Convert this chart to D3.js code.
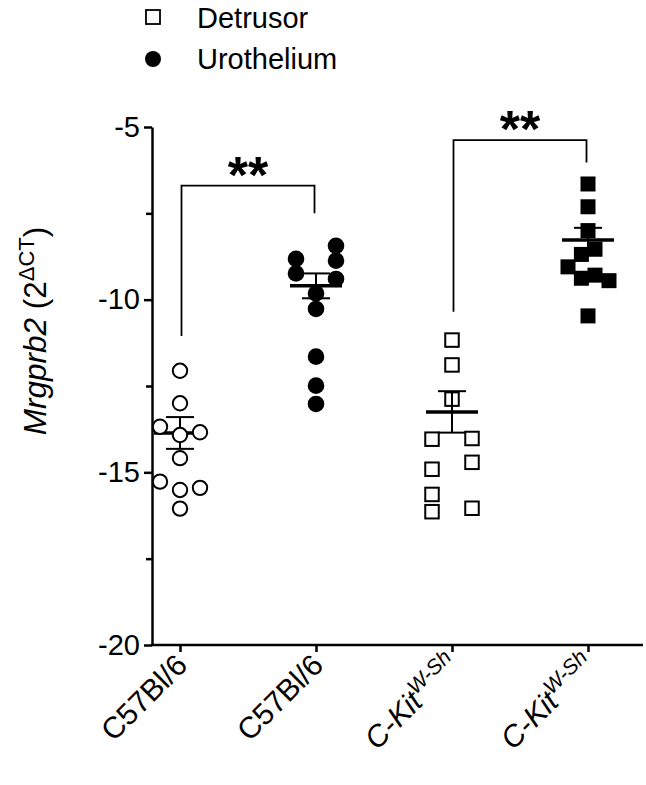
<!DOCTYPE html>
<html lang="en">

<head>
    <meta charset="utf-8">
    <title>Mrgprb2 expression</title>
    <script type="text/javascript" src="https://d3js.org/d3.v7.min.js"></script>
    <style>
        body { margin: 0; background: #fff; }
        svg text { font-family: "Liberation Sans", Arial, sans-serif; fill: #000; }
    </style>
</head>

<body>
    <div id="container"></div>
    <script type="text/javascript">
        // groups along the x axis
        var groups = ["C57Bl/6 detrusor", "C57Bl/6 urothelium", "C-Kit detrusor", "C-Kit urothelium"];
        var tickBase = ["C57Bl/6", "C57Bl/6", "C-Kit", "C-Kit"];
        var tickSup = ["", "", "W-Sh", "W-Sh"];
        var tissue = ["Detrusor", "Urothelium", "Detrusor", "Urothelium"];

        // individual values (2^dCT)
        var c57Detrusor = [-12.06, -13.0, -13.68, -13.92, -13.84, -14.59, -15.27, -15.51, -15.45, -16.05];
        var c57Uro = [-8.82, -9.24, -8.44, -8.87, -9.40, -9.82, -10.27, -11.65, -12.49, -13.02];
        var kitDetrusor = [-11.17, -11.89, -12.88, -14.04, -14.02, -14.71, -14.91, -15.64, -16.14, -16.04];
        var kitUro = [-6.65, -7.31, -8.00, -8.54, -8.69, -9.05, -9.38, -9.29, -9.45, -10.47];

        // horizontal spread of the points (column units)
        var c57DetrusorJit = [0, 0, -1, 0, 1, 0, -1, 0, 1, 0];
        var c57UroJit = [-1, -1, 1, 1, 1, 0, 0, 0, 0, 0];
        var kitDetrusorJit = [0, 0, 0, -1, 1, 1, -1, -1, -1, 1];
        var kitUroJit = [0, 0, 0, 0.35, -0.33, -1, -0.33, 0.35, 1.05, 0];

        var means = [-13.86, -9.60, -13.25, -8.27];
        var sems = [0.46, 0.36, 0.6, 0.35];

        var yTicks = [-20, -15, -10, -5];
        var yMinor = [-17.5, -12.5, -7.5];

        // significance brackets
        var comparisons = [[0, 1], [2, 3]];
        var bracketTop = [-6.7, -5.38];
        var bracketEnds = [[-11.05, -7.5], [-10.35, -6.03]];
        var sigLabels = ["**", "**"];

        var values = [c57Detrusor, c57Uro, kitDetrusor, kitUro];
        var jitters = [c57DetrusorJit, c57UroJit, kitDetrusorJit, kitUroJit];

        var w = 646;
        var h = 785;
        var svg = d3.select("div#container")
            .append("svg")
            .attr("width", w)
            .attr("height", h);

        var axisX = 152;
        var x = d3.scalePoint().domain(d3.range(groups.length)).range([180, 588]);
        var y = d3.scaleLinear().domain([-20, -5]).range([645, 127]);
        var spread = 20;

        // y axis
        var yAxis = svg.append("g")
            .attr("transform", "translate(" + axisX + ",0)")
            .call(d3.axisLeft(y).tickValues(yTicks).tickSize(8).tickSizeOuter(0).tickPadding(4)
                .tickFormat((d) => String(d)));
        yAxis.select(".domain").attr("stroke-width", 2.5);
        yAxis.selectAll(".tick line").attr("stroke-width", 2.5);
        yAxis.selectAll(".tick text").style("font-size", "29px");

        var yMin = svg.append("g")
            .attr("transform", "translate(" + axisX + ",0)")
            .call(d3.axisLeft(y).tickValues(yMinor).tickSize(6).tickFormat(""));
        yMin.select(".domain").remove();
        yMin.selectAll(".tick line").attr("stroke-width", 2.5);

        // x axis
        var xAxis = svg.append("g")
            .attr("transform", "translate(0," + y(-20) + ")")
            .call(d3.axisBottom(x).tickSize(7).tickFormat(""));
        xAxis.select(".domain").remove();
        xAxis.selectAll(".tick line").attr("stroke-width", 2.5);
        svg.append("line")
            .attr("x1", axisX - 1.25).attr("x2", 643)
            .attr("y1", y(-20)).attr("y2", y(-20))
            .attr("stroke", "#000").attr("stroke-width", 2.5);

        // x tick labels, rotated
        groups.forEach(function (g, i) {
            var t = svg.append("text")
                .attr("text-anchor", "end")
                .attr("transform", "translate(" + (x(i) + 9) + "," + (y(-20) + 22) + ") rotate(-45)")
                .style("font-size", "30px");
            if (tickSup[i]) {
                t.append("tspan").style("font-style", "italic").text(tickBase[i]);
                t.append("tspan").style("font-style", "italic").style("font-size", "21px")
                    .attr("dy", -12).text(tickSup[i]);
            } else {
                t.text(tickBase[i]);
            }
        });

        // y label
        var yl = svg.append("text")
            .attr("text-anchor", "middle")
            .attr("transform", "translate(46,331) rotate(-90)")
            .style("font-size", "31.5px");
        yl.append("tspan").style("font-style", "italic").text("Mrgprb2");
        yl.append("tspan").text(" (2");
        yl.append("tspan").attr("dy", -12).style("font-size", "22px").text("\u0394CT");
        yl.append("tspan").attr("dy", 12).text(")");

        // mean and SEM
        groups.forEach(function (g, i) {
            var cx = x(i);
            svg.append("line")
                .attr("x1", cx).attr("x2", cx)
                .attr("y1", y(means[i] + sems[i])).attr("y2", y(means[i] - sems[i]))
                .attr("stroke", "#000").attr("stroke-width", 2);
            [means[i] + sems[i], means[i] - sems[i]].forEach(function (v) {
                svg.append("line")
                    .attr("x1", cx - 14).attr("x2", cx + 14)
                    .attr("y1", y(v)).attr("y2", y(v))
                    .attr("stroke", "#000").attr("stroke-width", 2);
            });
            svg.append("line")
                .attr("x1", cx - 26).attr("x2", cx + 26)
                .attr("y1", y(means[i])).attr("y2", y(means[i]))
                .attr("stroke", "#000").attr("stroke-width", 3.5);
        });

        // points
        groups.forEach(function (g, i) {
            var pts = values[i].map((v, k) => ({ v: v, j: jitters[i][k] }));
            var filled = tissue[i] === "Urothelium";
            if (i < 2) {
                svg.selectAll("circle.g" + i)
                    .data(pts)
                    .enter()
                    .append("circle")
                    .attr("class", "g" + i)
                    .attr("cx", (d) => x(i) + d.j * spread)
                    .attr("cy", (d) => y(d.v))
                    .attr("r", filled ? 8.3 : 7.2)
                    .attr("fill", filled ? "#000" : "#fff")
                    .attr("stroke", "#000")
                    .attr("stroke-width", filled ? 0 : 2);
            } else {
                var s = filled ? 15 : 13.5;
                svg.selectAll("rect.g" + i)
                    .data(pts)
                    .enter()
                    .append("rect")
                    .attr("class", "g" + i)
                    .attr("x", (d) => x(i) + d.j * spread - s / 2)
                    .attr("y", (d) => y(d.v) - s / 2)
                    .attr("width", s)
                    .attr("height", s)
                    .attr("fill", filled ? "#000" : "none")
                    .attr("stroke", "#000")
                    .attr("stroke-width", filled ? 0 : 2);
            }
        });

        // brackets
        comparisons.forEach(function (c, i) {
            var x1 = x(c[0]) + 1.5, x2 = x(c[1]) - 1.5;
            svg.append("path")
                .attr("d", "M" + x1 + "," + y(bracketEnds[i][0]) + "V" + y(bracketTop[i]) +
                    "H" + x2 + "V" + y(bracketEnds[i][1]))
                .attr("fill", "none").attr("stroke", "#000").attr("stroke-width", 1.8);
            svg.append("text")
                .attr("x", (x1 + x2) / 2)
                .attr("y", y(bracketTop[i]) + 7)
                .attr("text-anchor", "middle")
                .style("font-size", "52px")
                .style("font-weight", "bold")
                .text(sigLabels[i]);
        });

        // legend
        var legend = svg.append("g");
        legend.append("rect")
            .attr("x", 146).attr("y", 10).attr("width", 14).attr("height", 14)
            .attr("fill", "none").attr("stroke", "#000").attr("stroke-width", 1.8);
        legend.append("text").attr("x", 197).attr("y", 28).style("font-size", "29px").text("Detrusor");
        legend.append("circle")
            .attr("cx", 153).attr("cy", 59).attr("r", 8).attr("fill", "#000");
        legend.append("text").attr("x", 197).attr("y", 69).style("font-size", "29px").text("Urothelium");
    </script>
</body>

</html>
